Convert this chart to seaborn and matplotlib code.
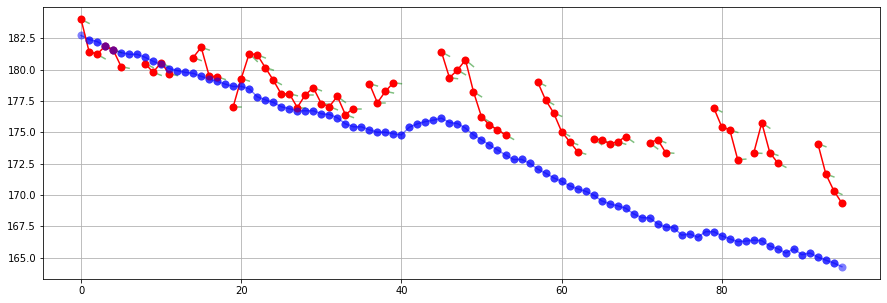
import numpy as np
import pandas as pd
import matplotlib
matplotlib.use("Agg")
import matplotlib.pyplot as plt
import seaborn as sns

nan = np.nan

steps = list(range(96))

blue_values = [182.74, 182.42, 182.26, 181.9, 181.6, 181.38, 181.24, 181.24, 181.0, 180.68,
               180.44, 180.1, 179.94, 179.8, 179.72, 179.48, 179.26, 179.08, 178.86, 178.67,
               178.68, 178.48, 177.85, 177.6, 177.4, 177.05, 176.9, 176.73, 176.73, 176.73,
               176.49, 176.43, 176.17, 175.69, 175.45, 175.45, 175.21, 175.02, 175.02, 174.89,
               174.81, 175.42, 175.69, 175.87, 175.98, 176.14, 175.79, 175.71, 175.34, 174.81,
               174.41, 174.0, 173.6, 173.2, 172.84, 172.85, 172.55, 172.08, 171.75, 171.38,
               171.1, 170.74, 170.5, 170.3, 170.0, 169.54, 169.3, 169.14, 168.95, 168.5,
               168.2, 168.18, 167.7, 167.45, 167.4, 166.8, 166.9, 166.63, 167.08, 167.08,
               166.75, 166.5, 166.28, 166.33, 166.4, 166.36, 165.93, 165.71, 165.37, 165.71,
               165.24, 165.37, 165.05, 164.8, 164.57, 164.28]

red_values = [184.03, 181.46, 181.24, 181.9, 181.6, 180.26, nan, nan, 180.5, 179.8,
              180.58, 179.7, nan, nan, 180.98, 181.8, 179.5, 179.45, nan, 177.06,
              179.3, 181.3, 181.2, 180.18, 179.18, 178.06, 178.1, 176.99, 178.0, 178.57,
              177.3, 177.07, 177.88, 176.43, 176.9, nan, 178.9, 177.37, 178.28, 178.97,
              nan, nan, nan, nan, nan, 181.43, 179.37, 179.98, 180.79, 178.25,
              176.25, 175.6, 175.21, 174.81, nan, nan, nan, 179.05, 177.6, 176.57,
              175.07, 174.27, 173.47, nan, 174.49, 174.41, 174.11, 174.25, 174.67, nan,
              nan, 174.17, 174.43, 173.39, nan, nan, nan, nan, nan, 176.97,
              175.45, 175.22, 172.82, nan, 173.37, 175.77, 173.39, 172.56, nan, nan,
              nan, nan, 174.11, 171.68, 170.34, 169.36]

green_delta = [-0.32, -0.16, -0.36, -0.3, -0.22, -0.14, nan, nan, -0.32, -0.24,
               -0.34, -0.16, nan, nan, -0.24, -0.22, -0.18, -0.22, nan, 0.0,
               -0.2, -0.63, -0.25, -0.2, -0.35, -0.15, -0.17, 0.0, 0.0, -0.24,
               -0.06, -0.26, -0.48, -0.24, 0.0, nan, -0.19, 0.0, -0.13, -0.08,
               nan, nan, nan, nan, nan, -0.35, -0.08, -0.37, -0.53, -0.4,
               -0.41, -0.4, -0.4, -0.36, nan, nan, nan, -0.33, -0.37, -0.28,
               -0.36, -0.24, -0.2, nan, -0.46, -0.24, -0.16, -0.19, -0.45, nan,
               nan, -0.48, -0.25, -0.05, nan, nan, nan, nan, nan, -0.33,
               -0.25, -0.22, 0.05, nan, -0.04, -0.43, -0.22, -0.34, nan, nan,
               nan, nan, -0.25, -0.23, -0.29, nan]

# ---- build tables ----
blue_df = pd.DataFrame({"x": steps, "y": blue_values})

seg_ids = []
seg = 0
prev_nan = True
for v in red_values:
    if np.isnan(v):
        prev_nan = True
        seg_ids.append(-1)
    else:
        if prev_nan:
            seg += 1
        prev_nan = False
        seg_ids.append(seg)
red_df = pd.DataFrame({"x": steps, "y": red_values, "seg": seg_ids})
red_df = red_df[red_df["seg"] >= 0]

g_rows = []
for i, (xv, rv, dv) in enumerate(zip(steps, red_values, green_delta)):
    if np.isnan(rv) or np.isnan(dv):
        continue
    g_rows.append({"x": xv, "y": rv, "u": i})
    g_rows.append({"x": xv + 1, "y": rv + dv, "u": i})
green_df = pd.DataFrame(g_rows)

# ---- draw ----
DPI = 72
fig = plt.figure(figsize=(887 / DPI, 303 / DPI), dpi=DPI)
ax = fig.add_axes([0.0485, 0.079, 0.9435, 0.898])

sns.lineplot(data=blue_df, x="x", y="y", color="blue", marker="o", markersize=8,
             markeredgewidth=0, alpha=0.5, linewidth=1.5, ax=ax, zorder=1)
sns.lineplot(data=green_df, x="x", y="y", units="u", estimator=None, color="green",
             alpha=0.5, linewidth=1.5, ax=ax, zorder=1.5)
sns.lineplot(data=red_df, x="x", y="y", units="seg", estimator=None, color="red",
             marker="o", markersize=8, markeredgewidth=0, linewidth=1.5, ax=ax, zorder=2)
inner = blue_df.iloc[1:-1]
sns.scatterplot(data=inner, x="x", y="y", color="blue", s=64, linewidth=0,
                alpha=0.55, ax=ax, zorder=3)

ax.grid(True, color="#b0b0b0", linewidth=0.8)
ax.set_axisbelow(True)
ax.set_xlabel("")
ax.set_ylabel("")
ax.set_xticks([0, 20, 40, 60, 80])
ax.set_yticks([165.0, 167.5, 170.0, 172.5, 175.0, 177.5, 180.0, 182.5])
ax.set_yticklabels(["165.0", "167.5", "170.0", "172.5", "175.0", "177.5", "180.0", "182.5"])
ax.margins(x=0.05, y=0.05)
ax.tick_params(labelsize=10)

fig.savefig("out.png", dpi=DPI)
